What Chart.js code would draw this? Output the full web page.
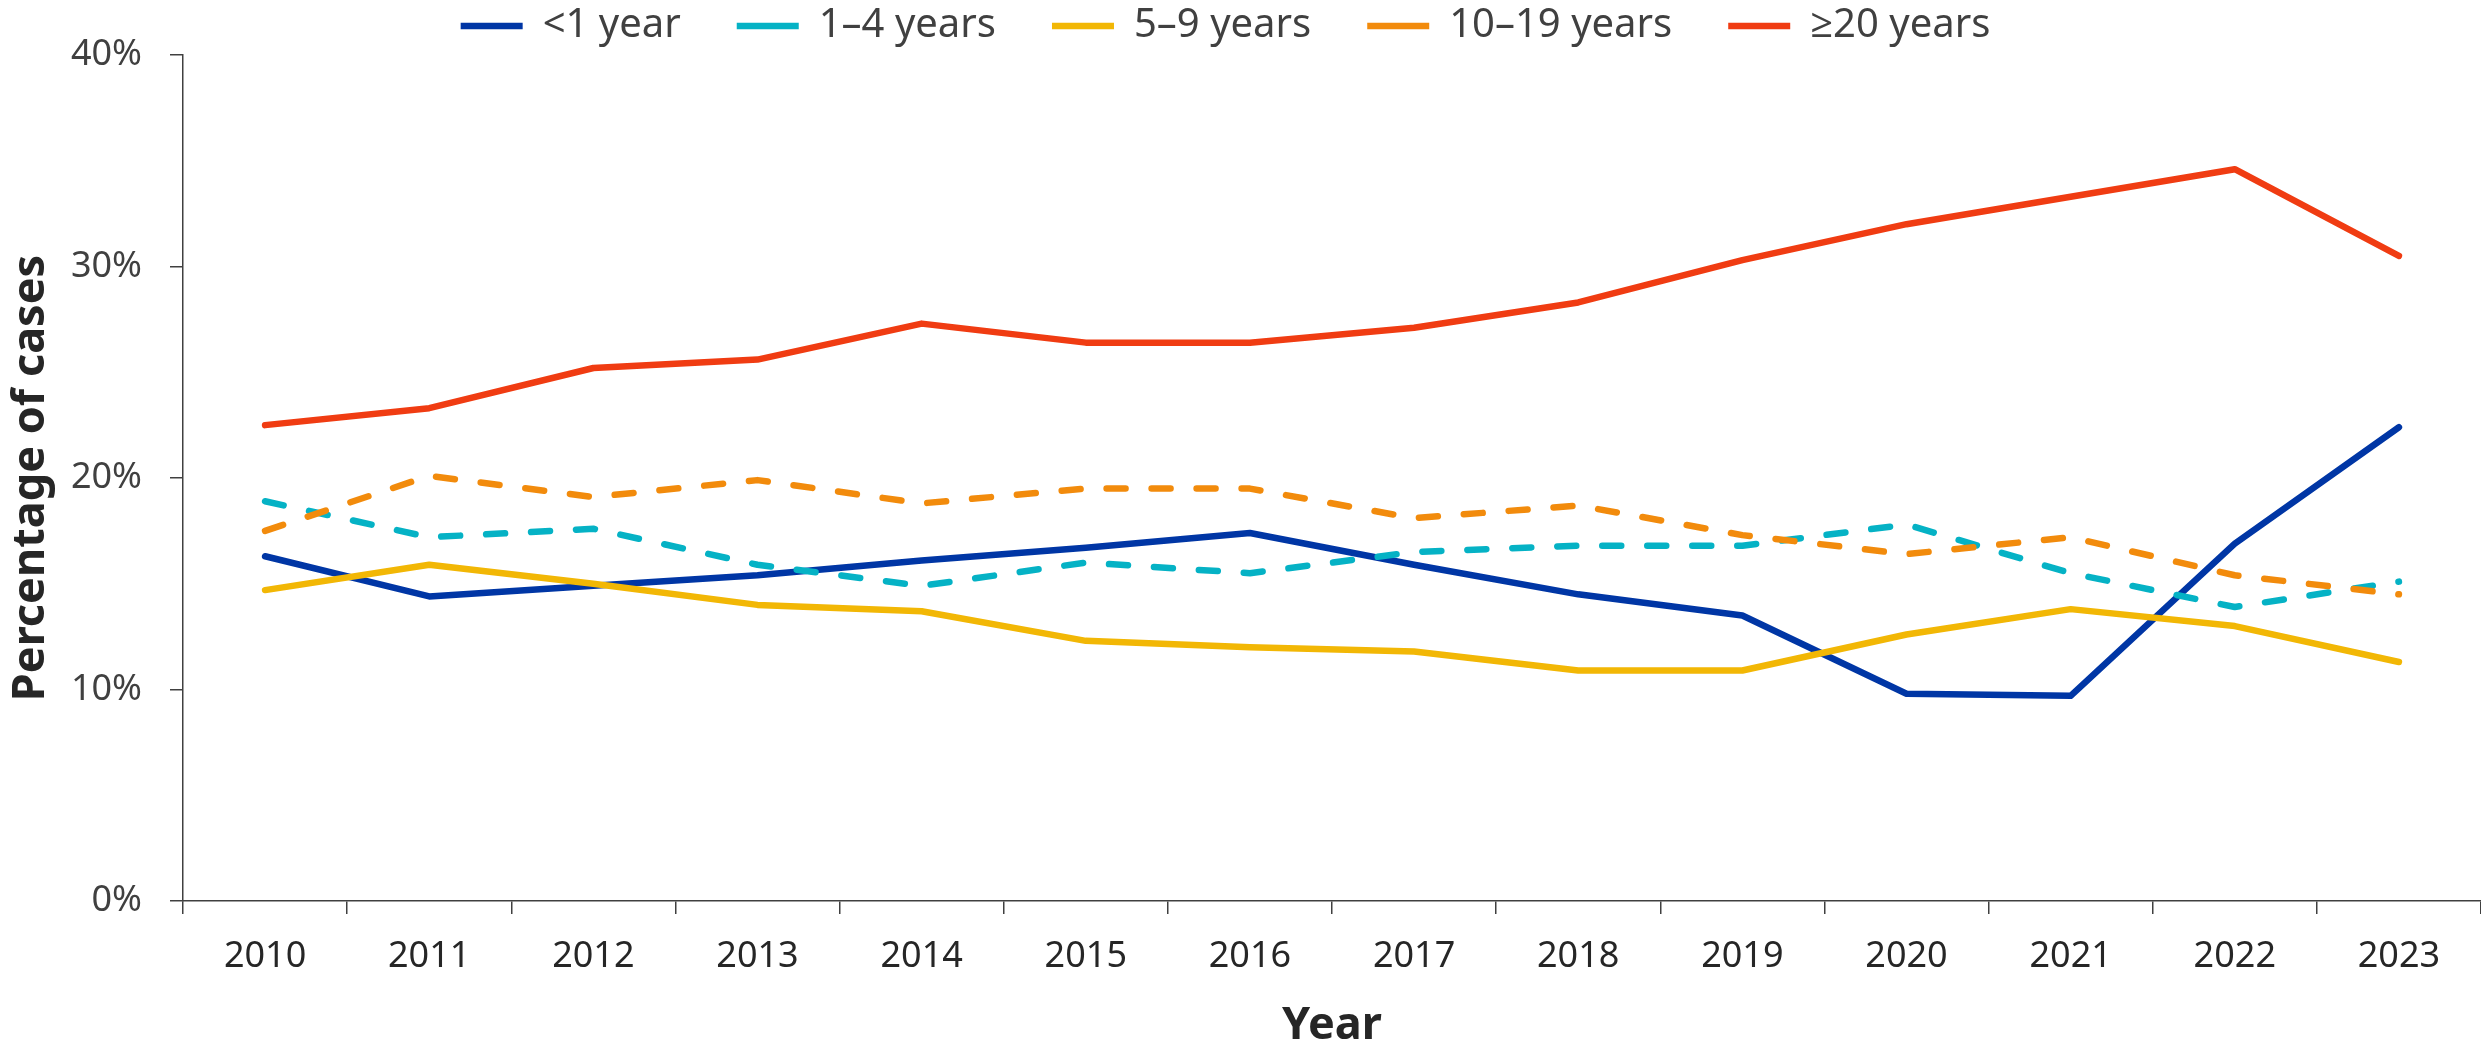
<!DOCTYPE html>
<html>
<head>
<meta charset="utf-8">
<script src="https://cdn.jsdelivr.net/npm/chart.js@4.4.1/dist/chart.umd.min.js"></script>
<style>
  html, body { margin: 0; padding: 0; background: #ffffff; }
  #wrap { width: 2481px; height: 1046px; position: relative; }
</style>
</head>
<body>
<div id="wrap"><canvas id="c" width="2481" height="1046"></canvas></div>
<script>
// ---- Data ----
const years = ['2010','2011','2012','2013','2014','2015','2016','2017','2018','2019','2020','2021','2022','2023'];
const seriesNames = ['<1 year', '1\u20134 years', '5\u20139 years', '10\u201319 years', '\u226520 years'];
const under1  = [16.3, 14.4, 14.9, 15.4, 16.1, 16.7, 17.4, 15.9, 14.5, 13.5, 9.8, 9.7, 16.9, 22.4];
const age1to4 = [18.9, 17.2, 17.6, 15.9, 14.9, 16.0, 15.5, 16.5, 16.8, 16.8, 17.8, 15.5, 13.9, 15.1];
const age5to9 = [14.7, 15.9, 15.0, 14.0, 13.7, 12.3, 12.0, 11.8, 10.9, 10.9, 12.6, 13.8, 13.0, 11.3];
const age10to19 = [17.5, 20.1, 19.1, 19.9, 18.8, 19.5, 19.5, 18.1, 18.7, 17.3, 16.4, 17.2, 15.4, 14.5];
const age20plus = [22.5, 23.3, 25.2, 25.6, 27.3, 26.4, 26.4, 27.1, 28.3, 30.3, 32.0, 33.3, 34.6, 30.5];
const yTicks = [0, 10, 20, 30, 40];

const colors = ['#0036A5', '#05B2C5', '#F2B705', '#F28B0C', '#F03C12'];
const dashes = [[], [19, 26], [], [19, 26], []];
const allSeries = [under1, age1to4, age5to9, age10to19, age20plus];

const FONT = "'Noto Sans', 'Open Sans', 'DejaVu Sans', sans-serif";

const datasets = allSeries.map((vals, i) => ({
  label: seriesNames[i],
  data: vals,
  borderColor: colors[i],
  backgroundColor: colors[i],
  borderWidth: 6.5,
  borderDash: dashes[i],
  borderCapStyle: 'round',
  borderJoinStyle: 'round',
  pointRadius: 0,
  pointHoverRadius: 0,
  tension: 0,
  fill: false,
  order: allSeries.length - i
}));

const legendTweak = {
  id: 'legendTweak',
  afterInit(chart) {
    const L = chart.legend;
    if (!L) return;
    const fit0 = L.fit.bind(L);
    L.fit = function () { fit0(); this.height = 55; };
    const draw0 = L.draw.bind(L);
    L.draw = function () {
      const t = this.top, l = this.left, r = this.right;
      this.top = t - 50; this.left = l - 15; this.right = r - 15;
      draw0();
      this.top = t; this.left = l; this.right = r;
    };
  }
};

new Chart(document.getElementById('c'), {
  type: 'line',
  data: { labels: years, datasets },
  plugins: [legendTweak],
  options: {
    responsive: false,
    maintainAspectRatio: false,
    devicePixelRatio: 1,
    animation: false,
    layout: { padding: 0 },
    plugins: {
      tooltip: { enabled: false },
      legend: {
        display: true,
        position: 'top',
        labels: {
          usePointStyle: true,
          pointStyle: 'line',
          pointStyleWidth: 62,
          padding: 56,
          color: '#404040',
          font: { family: FONT, size: 40 },
          sort: (a, b) => a.datasetIndex - b.datasetIndex
        }
      }
    },
    scales: {
      x: {
        type: 'category',
        offset: true,
        grid: {
          offset: true,
          drawOnChartArea: false,
          drawTicks: true,
          tickLength: 13,
          color: '#404040',
          lineWidth: 1.5
        },
        border: { display: true, color: '#404040', width: 1.5 },
        ticks: {
          color: '#262626',
          font: { family: FONT, size: 36 },
          padding: 21,
          maxRotation: 0,
          autoSkip: false
        },
        title: {
          display: true,
          text: 'Year',
          color: '#262626',
          font: { family: FONT, size: 45, weight: 'bold', lineHeight: 0.9 },
          padding: { top: 0, bottom: 0 }
        },
        afterFit(scale) { scale.height = 145; }
      },
      y: {
        min: 0,
        max: 40,
        afterBuildTicks(scale) { scale.ticks = yTicks.map(v => ({ value: v })); },
        grid: {
          drawOnChartArea: false,
          drawTicks: true,
          tickLength: 13,
          color: '#404040',
          lineWidth: 1.5
        },
        border: { display: true, color: '#404040', width: 1.5 },
        ticks: {
          color: '#404040',
          font: { family: FONT, size: 36 },
          padding: 28,
          callback: (v) => v + '%'
        },
        title: {
          display: true,
          text: 'Percentage of cases',
          color: '#262626',
          font: { family: FONT, size: 45, weight: 'bold', lineHeight: 1.2 },
          padding: { top: 4, bottom: 0 }
        },
        afterFit(scale) { scale.width = 183; }
      }
    }
  }
});
</script>
</body>
</html>
